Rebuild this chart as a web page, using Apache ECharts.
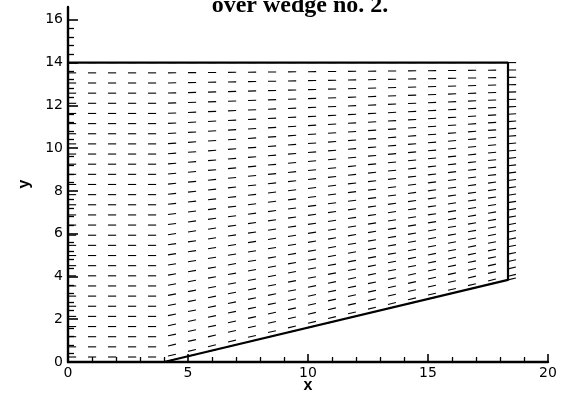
<!DOCTYPE html>
<html>
<head>
<meta charset="utf-8">
<style>
  html, body { margin: 0; padding: 0; background: #fff; }
  #chart { width: 565px; height: 394px; }
</style>
<script src="https://cdn.jsdelivr.net/npm/echarts@6/dist/echarts.min.js"></script>
</head>
<body>
<div id="chart"></div>
<script>
// Mesh columns (x stations of the structured grid)
const xNodes = [0, 0.833, 1.667, 2.5, 3.333, 4.167, 5, 5.833, 6.667, 7.5, 8.333,
  9.167, 10, 10.833, 11.667, 12.5, 13.333, 14.167, 15, 15.833, 16.667, 17.5, 18.333];
// Mesh rows over the flat part of the floor (y stations, 0 .. 14)
const yRows = [0, 0.234, 0.709, 1.183, 1.658, 2.132, 2.607, 3.081, 3.556, 4.03, 4.505,
  4.979, 5.454, 5.928, 6.403, 6.877, 7.352, 7.826, 8.301, 8.775, 9.25, 9.724,
  10.199, 10.673, 11.148, 11.622, 12.097, 12.571, 13.046, 13.52, 14];
// Domain outline: top wall, outflow edge, wedge face back to its corner
const outline = [[0, 14], [18.333, 14], [18.333, 3.84], [4, 0]];
const wedgeCorner = [4, 0];
const flowSpeed = 1.0;
const vectorScale = 0.34;      // data units per unit speed

const yTicksMajor = [0, 2, 4, 6, 8, 10, 12, 14, 16];

const topY = outline[0][1];
const slope = (outline[2][1] - outline[3][1]) / (outline[2][0] - outline[3][0]);
function floorAt(x) { return x <= wedgeCorner[0] ? 0 : (x - wedgeCorner[0]) * slope; }

// Velocity follows the local grid line: parallel to the wedge face at the floor,
// easing to horizontal at the top wall.
const vectors = [];
xNodes.forEach(function (x) {
  const yb = floorAt(x);
  yRows.forEach(function (eta) {
    const y = yb + (topY - yb) * eta / topY;
    const lineSlope = x > wedgeCorner[0] ? slope * (1 - eta / topY) : 0;
    const ang = Math.atan(lineSlope);
    const s = flowSpeed * vectorScale;
    vectors.push([x, y, s * Math.cos(ang), s * Math.sin(ang)]);
  });
});

const yMinor = [];
for (let v = 0.4; v < 16.01; v += 0.4) {
  const r = Math.round(v * 10) / 10;
  if (Math.abs(r / 2 - Math.round(r / 2)) > 1e-6) yMinor.push(r);
}

const labelFont = { color: '#000', fontSize: 14, fontFamily: '"DejaVu Sans", Arial, sans-serif' };

const chart = echarts.init(document.getElementById('chart'), null, { renderer: 'canvas' });
chart.setOption({
  animation: false,
  backgroundColor: '#fff',
  grid: { left: 68, right: 17, top: 7, bottom: 32, containLabel: false },
  xAxis: {
    type: 'value', min: 0, max: 20, interval: 5,
    axisLine: { show: true, onZero: false, lineStyle: { color: '#000', width: 2.4 } },
    axisTick: { show: true, inside: true, length: 8, lineStyle: { color: '#000', width: 1.6 } },
    minorTick: { show: true, splitNumber: 5, length: 5, lineStyle: { color: '#000', width: 1.3 } },
    splitLine: { show: false },
    axisLabel: Object.assign({ margin: 4 }, labelFont)
  },
  yAxis: [{
    type: 'value', min: 0, max: 16.6,
    axisLine: { show: true, onZero: false, lineStyle: { color: '#000', width: 2.4 } },
    axisTick: { show: true, inside: true, length: 10, customValues: yTicksMajor,
      lineStyle: { color: '#000', width: 1.6 } },
    splitLine: { show: false },
    axisLabel: Object.assign({ margin: 5, customValues: yTicksMajor }, labelFont)
  }, {
    type: 'value', min: 0, max: 16.6, position: 'left',
    axisLine: { show: false },
    axisTick: { show: true, inside: true, length: 6, customValues: yMinor,
      lineStyle: { color: '#000', width: 1.3 } },
    splitLine: { show: false },
    axisLabel: { show: false }
  }],
  graphic: [
    { type: 'text', z: 10, x: 300, y: 6,
      style: { text: 'over wedge no. 2.', fill: '#000', align: 'center', verticalAlign: 'middle',
        font: 'bold 24px "Liberation Serif", "Times New Roman", serif' } },
    { type: 'text', z: 10, x: 308, y: 386,
      style: { text: 'x', fill: '#000', align: 'center', verticalAlign: 'middle',
        font: 'bold 16px "Liberation Sans", Arial, sans-serif' } },
    { type: 'text', z: 10, x: 25, y: 184, rotation: Math.PI / 2,
      style: { text: 'y', fill: '#000', align: 'center', verticalAlign: 'middle',
        font: 'bold 16px "Liberation Sans", Arial, sans-serif' } }
  ],
  series: [{
    name: 'velocity',
    type: 'custom',
    coordinateSystem: 'cartesian2d',
    clip: false,
    data: vectors,
    encode: { x: 0, y: 1 },
    renderItem: function (params, api) {
      const x = api.value(0), y = api.value(1);
      const p0 = api.coord([x, y]);
      const p1 = api.coord([x + api.value(2), y + api.value(3)]);
      return {
        type: 'line',
        shape: { x1: p0[0], y1: p0[1], x2: p1[0], y2: p1[1] },
        style: { stroke: '#000', lineWidth: 1.1 }
      };
    }
  }, {
    name: 'outline',
    type: 'line',
    data: outline,
    symbol: 'none',
    clip: false,
    z: 3,
    lineStyle: { color: '#000', width: 2.2 }
  }]
});
</script>
</body>
</html>
